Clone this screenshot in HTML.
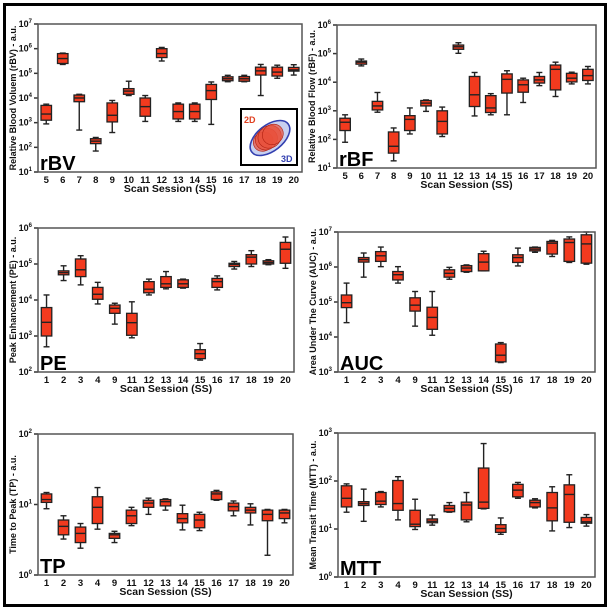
<!DOCTYPE html>
<html><head><meta charset="utf-8"><style>
html,body{margin:0;padding:0;background:#fff;}
svg{display:block;font-family:"Liberation Sans",Arial,sans-serif;}
</style></head><body>
<svg id="fig" width="611" height="612" viewBox="0 0 611 612">
<rect x="4.5" y="4.5" width="601" height="601" fill="#fff" stroke="#000" stroke-width="3"/>
</svg>
<script>
// ---- rBV (log10 values) ----
const rbvCats=["5","6","7","8","9","10","11","12","13","14","15","16","17","18","19","20"];
const rbvMin=[2.95,5.36,2.7,1.85,2.6,4.1,3.05,5.5,3.05,3.05,2.93,4.66,4.66,4.1,4.8,4.93];
const rbvQ1=[3.1,5.4,3.85,2.15,3.03,4.15,3.26,5.64,3.15,3.15,3.94,4.7,4.68,4.93,4.89,5.09];
const rbvMed=[3.35,5.6,4.0,2.25,3.3,4.28,3.65,5.8,3.45,3.45,4.3,4.78,4.78,5.1,5.05,5.14];
const rbvQ3=[3.7,5.8,4.12,2.35,3.8,4.38,4.0,6.0,3.75,3.75,4.55,4.86,4.87,5.25,5.25,5.24];
const rbvMax=[3.75,5.82,4.15,2.4,3.9,4.68,4.1,6.05,3.8,3.8,4.65,4.92,4.92,5.36,5.33,5.35];
// ---- rBF ----
const rbfCats=["5","6","7","8","9","10","11","12","13","14","15","16","17","18","19","20"];
const rbfMin=[1.9,4.57,2.95,1.25,2.19,2.98,2.1,5.01,2.82,2.86,2.86,3.29,3.88,3.5,3.94,3.94];
const rbfQ1=[2.31,4.63,3.03,1.52,2.31,3.17,2.19,5.15,3.15,2.94,3.62,3.65,3.97,3.73,4.01,4.06];
const rbfMed=[2.6,4.7,3.17,1.76,2.7,3.27,2.63,5.24,3.56,3.1,4.1,3.91,4.08,4.45,4.14,4.23];
const rbfQ3=[2.74,4.74,3.33,2.26,2.83,3.36,3.0,5.3,4.2,3.53,4.29,4.08,4.2,4.6,4.31,4.45];
const rbfMax=[2.86,4.81,3.64,2.4,3.1,3.38,3.13,5.38,4.34,3.6,4.4,4.14,4.34,4.7,4.35,4.55];
// ---- PE ----
const peCats=["1","2","3","4","9","11","12","13","14","15","16","17","18","19","20"];
const peMin=[2.7,4.54,4.42,3.89,3.33,2.95,4.14,4.31,4.33,2.33,4.28,4.86,4.93,4.98,4.88];
const peQ1=[3.0,4.7,4.65,4.02,3.63,3.02,4.2,4.35,4.35,2.37,4.35,4.93,5.0,5.0,5.02];
const peMed=[3.38,4.76,4.84,4.16,3.77,3.37,4.3,4.45,4.45,2.51,4.51,4.99,5.19,5.04,5.41];
const peQ3=[3.79,4.81,5.14,4.35,3.86,3.63,4.51,4.65,4.56,2.62,4.6,5.02,5.26,5.09,5.6];
const peMax=[4.14,4.95,5.23,4.49,3.91,3.95,4.58,4.79,4.58,2.79,4.67,5.07,5.37,5.12,5.75];
// ---- AUC ----
const aucCats=["1","2","3","4","9","11","12","13","14","15","16","17","18","19","20"];
const aucMin=[4.41,5.71,6.01,5.54,4.31,4.05,5.65,5.85,5.89,3.27,6.03,6.42,6.3,6.13,6.08];
const aucQ1=[4.84,6.14,6.16,5.63,4.74,4.22,5.71,5.87,5.89,3.29,6.13,6.46,6.37,6.16,6.11];
const aucMed=[4.98,6.21,6.32,5.78,4.91,4.56,5.82,5.97,6.14,3.48,6.27,6.51,6.68,6.7,6.66];
const aucQ3=[5.2,6.27,6.44,5.87,5.12,4.85,5.92,6.04,6.38,3.8,6.35,6.56,6.73,6.8,6.92];
const aucMax=[5.54,6.4,6.57,6.01,5.3,5.3,5.99,6.06,6.45,3.84,6.54,6.57,6.76,6.86,7.0];
// ---- TP ----
const tpCats=["1","2","3","4","9","11","12","13","14","15","16","17","18","19","20"];
const tpMin=[0.94,0.51,0.38,0.65,0.46,0.7,0.86,0.92,0.64,0.63,1.06,0.84,0.71,0.28,0.74];
const tpQ1=[1.03,0.57,0.46,0.73,0.52,0.73,0.96,0.98,0.74,0.67,1.07,0.91,0.88,0.77,0.8];
const tpMed=[1.07,0.69,0.59,0.96,0.57,0.84,1.02,1.04,0.8,0.78,1.15,0.97,0.92,0.86,0.88];
const tpQ3=[1.15,0.78,0.68,1.11,0.59,0.92,1.06,1.07,0.87,0.86,1.18,1.02,0.96,0.92,0.92];
const tpMax=[1.17,0.84,0.73,1.24,0.62,0.96,1.09,1.08,0.99,0.89,1.2,1.05,1.01,0.93,0.93];
// ---- MTT ----
const mttCats=["1","2","3","4","9","11","12","13","14","15","16","17","18","19","20"];
const mttMin=[1.35,1.16,1.46,1.19,0.99,1.08,1.35,1.15,1.42,0.89,1.64,1.44,0.96,1.03,1.06];
const mttQ1=[1.46,1.49,1.51,1.39,1.05,1.13,1.36,1.19,1.43,0.93,1.67,1.46,1.17,1.14,1.12];
const mttMed=[1.64,1.53,1.58,1.53,1.1,1.16,1.43,1.5,1.56,1.01,1.81,1.55,1.44,1.72,1.15];
const mttQ3=[1.9,1.57,1.76,2.01,1.39,1.21,1.49,1.56,2.27,1.09,1.93,1.6,1.76,1.92,1.24];
const mttMax=[1.94,1.83,1.78,2.09,1.62,1.29,1.55,1.76,2.78,1.23,1.97,1.63,1.88,2.13,1.3];

const NS="http://www.w3.org/2000/svg";
const svg=document.getElementById('fig');
function mk(tag,attrs,parent){const e=document.createElementNS(NS,tag);for(const k in attrs)e.setAttribute(k,attrs[k]);(parent||svg).appendChild(e);return e;}

function panel(p,cats,lo,q1,med,q3,hi){
  const g=mk('g',{});
  
  
  const n=cats.length, bw=(p.x1-p.x0)/n;
  const xs=i=>p.x0+bw*(i+0.5);
  const ys=v=>p.y1-(v-p.dmin)/(p.dmax-p.dmin)*(p.y1-p.y0);
  for(let d=p.dmin;d<=p.dmax;d++){
    const y=ys(d);
    const tk=mk('line',{x1:p.x0-4,x2:p.x0,y1:y,y2:y,stroke:'#333','stroke-width':1.5},g);
    
    
    const t=mk('text',{x:p.x0-6,y:y+3,'text-anchor':'end','font-size':9,'font-weight':'bold',fill:'#111'},g);
    
    
    t.textContent='10';
    const s=mk('tspan',{dy:-4,'font-size':6},t); s.textContent=String(d);
  }
  for(let i=0;i<n;i++){
    const x=xs(i), w=10.5, cw=6;
    const bg=mk('g',{},g);
    
    
    mk('line',{x1:x,x2:x,y1:ys(hi[i]),y2:ys(q3[i]),stroke:'#222','stroke-width':1.4},bg);
    mk('line',{x1:x,x2:x,y1:ys(q1[i]),y2:ys(lo[i]),stroke:'#222','stroke-width':1.4},bg);
    mk('line',{x1:x-cw/2,x2:x+cw/2,y1:ys(hi[i]),y2:ys(hi[i]),stroke:'#222','stroke-width':1.4},bg);
    mk('line',{x1:x-cw/2,x2:x+cw/2,y1:ys(lo[i]),y2:ys(lo[i]),stroke:'#222','stroke-width':1.4},bg);
    mk('rect',{x:x-w/2,y:ys(q3[i]),width:w,height:Math.max(1,ys(q1[i])-ys(q3[i])),fill:'#f23a1e',stroke:'#222','stroke-width':1.3},bg);
    mk('line',{x1:x-w/2,x2:x+w/2,y1:ys(med[i]),y2:ys(med[i]),stroke:'#222','stroke-width':1.4},bg);
    const xl=mk('text',{x:x,y:p.y1+11,'text-anchor':'middle','font-size':9.5,'font-weight':'bold',fill:'#111'},g);
    
    
    xl.textContent=cats[i];
  }
  const fr=mk('rect',{x:p.x0,y:p.y0,width:p.x1-p.x0,height:p.y1-p.y0,fill:'none',stroke:'#555','stroke-width':1.5},g);
  
  
  const xt=mk('text',{x:(p.x0+p.x1)/2,y:p.y1+20,'text-anchor':'middle','font-size':10.5,'font-weight':'bold',fill:'#111'},g);
  
  
  xt.textContent='Scan Session (SS)';
  const cy=(p.y0+p.y1)/2, cx=p.x0-22;
  const yt=mk('text',{x:cx,y:cy,'text-anchor':'middle','font-size':9,'font-weight':'bold',fill:'#111',transform:'rotate(-90 '+cx+' '+cy+')'},g);
  
  
  yt.textContent=p.ytitle;
  const tg=mk('text',{x:p.x0+2,y:p.y1-2,'font-size':20,'font-weight':'bold',fill:'#000'},g);
  
  
  tg.textContent=p.tag;
}

panel({key:'rbv',x0:38,x1:302,y0:24,y1:172,dmin:1,dmax:7,ytitle:'Relative Blood Voluem (rBV) - a.u.',tag:'rBV'},rbvCats,rbvMin,rbvQ1,rbvMed,rbvQ3,rbvMax);
panel({key:'rbf',x0:337,x1:596,y0:25,y1:168,dmin:1,dmax:6,ytitle:'Relative Blood Flow (rBF) - a.u.',tag:'rBF'},rbfCats,rbfMin,rbfQ1,rbfMed,rbfQ3,rbfMax);
panel({key:'pe',x0:38,x1:294,y0:228,y1:372,dmin:2,dmax:6,ytitle:'Peak Enhancement (PE) - a.u.',tag:'PE'},peCats,peMin,peQ1,peMed,peQ3,peMax);
panel({key:'auc',x0:338,x1:595,y0:232,y1:372,dmin:3,dmax:7,ytitle:'Area Under The Curve  (AUC) - a.u.',tag:'AUC'},aucCats,aucMin,aucQ1,aucMed,aucQ3,aucMax);
panel({key:'tp',x0:38,x1:293,y0:434,y1:575,dmin:0,dmax:2,ytitle:'Time to Peak (TP) - a.u.',tag:'TP'},tpCats,tpMin,tpQ1,tpMed,tpQ3,tpMax);
panel({key:'mtt',x0:338,x1:595,y0:433,y1:577,dmin:0,dmax:3,ytitle:'Mean Transit Time (MTT) - a.u.',tag:'MTT'},mttCats,mttMin,mttQ1,mttMed,mttQ3,mttMax);

const ig=mk('g',{});


mk('rect',{x:241,y:109,width:56,height:56,fill:'#fff',stroke:'#000','stroke-width':2},ig);
mk('ellipse',{cx:270,cy:138,rx:23,ry:13,fill:'#c8d0f0',stroke:'#3340b0','stroke-width':1.6,transform:'rotate(-38 270 138)'},ig);
[[-6,0.85],[-2,0.95],[2,1.0],[6,0.9]].forEach(a=>{
  const cx=268+a[0]*0.8, cy=138-a[0]*0.6;
  mk('ellipse',{cx:cx,cy:cy,rx:12*a[1],ry:11*a[1],fill:'#e8503a','fill-opacity':0.7,stroke:'#b02010','stroke-width':0.6,transform:'rotate(-38 '+cx+' '+cy+')'},ig);
});
const t2=mk('text',{x:244,y:123,'font-size':9,'font-weight':'bold',fill:'#e04020'},ig);t2.textContent='2D';
const t3=mk('text',{x:281,y:162,'font-size':9,'font-weight':'bold',fill:'#3340b0'},ig);t3.textContent='3D';
</script>
</body></html>
